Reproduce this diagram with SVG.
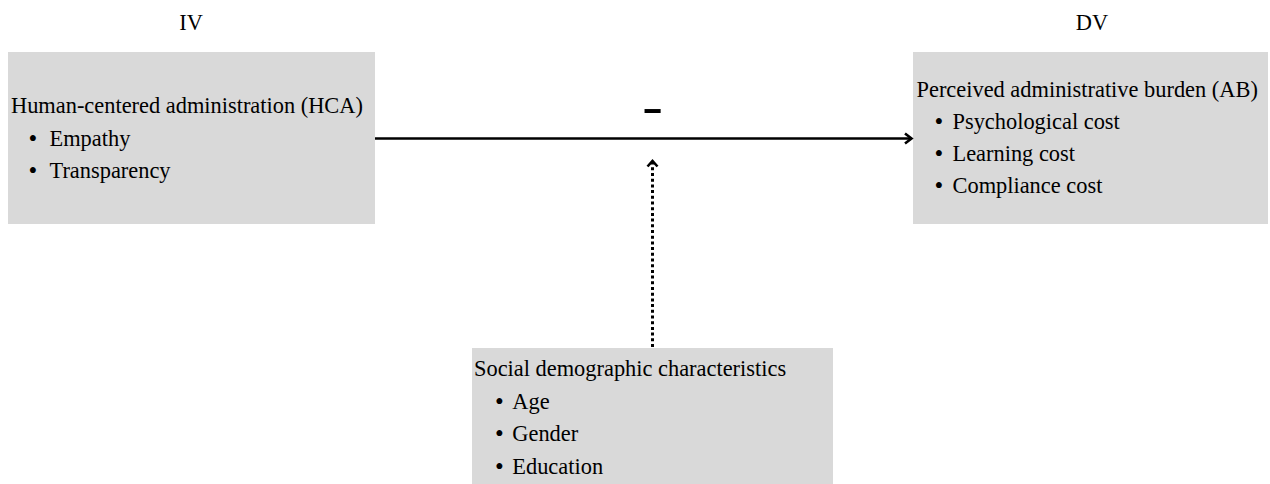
<svg xmlns="http://www.w3.org/2000/svg" width="1270" height="484" viewBox="0 0 1270 484">
  <style>
    .box { fill: #d9d9d9; }
    .t { font-family: 'Liberation Serif', 'DejaVu Serif', serif; font-size: 22.4px; fill: #000; }
    .b { font-family: 'Liberation Serif', 'DejaVu Serif', serif; font-size: 25px; fill: #000; }
    .minus { font-family: 'Liberation Serif', 'DejaVu Serif', serif; font-size: 46px; font-weight: bold; fill: #000; }
    .solid { stroke: #000; stroke-width: 2.6; fill: none; }
    .dotted { stroke: #000; stroke-width: 3; fill: none; stroke-dasharray: 3 2.7; }
    .head { stroke: #000; stroke-width: 2.6; fill: none; stroke-linejoin: miter; stroke-linecap: butt; }
  </style>
  <rect width="1270" height="484" fill="#ffffff"/>

  <g id="label-iv"><text class="t" x="191" y="30" text-anchor="middle">IV</text></g>
  <g id="label-dv"><text class="t" x="1092" y="30" text-anchor="middle">DV</text></g>

  <g id="node-hca">
    <rect class="box" x="8" y="52" width="367" height="172"/>
    <text class="t" x="11" y="113">Human-centered administration (HCA)</text>
    <text class="b" x="28.5" y="146.5">•</text>
    <text class="t" x="49.5" y="145.5">Empathy</text>
    <text class="b" x="28.5" y="179">•</text>
    <text class="t" x="49.5" y="178">Transparency</text>
  </g>

  <g id="node-ab">
    <rect class="box" x="913" y="52" width="355" height="172"/>
    <text class="t" x="916.5" y="97">Perceived administrative burden (AB)</text>
    <text class="b" x="934.5" y="130">•</text>
    <text class="t" x="952.5" y="129">Psychological cost</text>
    <text class="b" x="934.5" y="162">•</text>
    <text class="t" x="952.5" y="161">Learning cost</text>
    <text class="b" x="934.5" y="194">•</text>
    <text class="t" x="952.5" y="193">Compliance cost</text>
  </g>

  <g id="node-social">
    <rect class="box" x="472" y="348" width="361" height="140"/>
    <text class="t" x="474" y="376">Social demographic characteristics</text>
    <text class="b" x="495" y="409.5">•</text>
    <text class="t" x="512.3" y="408.5">Age</text>
    <text class="b" x="495" y="442">•</text>
    <text class="t" x="512.3" y="441">Gender</text>
    <text class="b" x="495" y="474.5">•</text>
    <text class="t" x="512.3" y="473.5">Education</text>
  </g>

  <g id="connectors">
    <line class="solid" x1="375" y1="138.5" x2="911" y2="138.5"/>
    <polyline class="head" points="905,133.5 911.5,138.5 905,143.5"/>
    <line class="dotted" x1="652.5" y1="347" x2="652.5" y2="163"/>
    <polyline class="head" points="647.5,166.5 652.5,161 657.5,166.5"/>
    <text class="minus" transform="translate(652.5,122) scale(1.35,1)" text-anchor="middle">-</text>
  </g>
</svg>
